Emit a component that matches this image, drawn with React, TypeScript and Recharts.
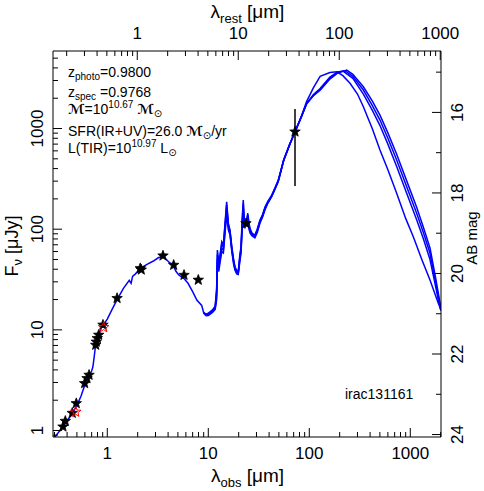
import React from 'react';
import { ComposedChart, Line, Scatter, XAxis, YAxis } from 'recharts';

const W = 484;
const H = 491;
const REDSHIFT = 0.98;
const X_DOMAIN: [number, number] = [0.29, 2014];
const Y_DOMAIN: [number, number] = [0.862, 5890];
const FONT = '"Liberation Sans", Arial, "DejaVu Sans", sans-serif';
const BLUE = '#0000ff';

// Photometry (black stars)
const photLam = [0.364, 0.384, 0.45, 0.493, 0.597, 0.63, 0.66, 0.768, 0.778, 0.796, 0.822, 0.906, 1.25, 2.12, 2.17, 3.56, 4.54, 5.75, 7.96, 23.6, 72.2];
const photFlux = [1.09, 1.24, 1.49, 1.86, 2.94, 3.3, 3.56, 7.07, 7.6, 8.24, 8.9, 11.2, 20.6, 40.8, 39.5, 54.5, 44, 35, 31.3, 114, 929];
// Photometry (red stars)
const redLam = [0.487, 0.92];
const redFlux = [1.53, 10.6];
// 70 micron error bar
const errLam = [72.2, 72.2];
const errFlux = [268, 1563];
// rest-frame wavelength range anchoring the top axis
const restLam = [0.2, 1000];
const restFlux = [1, 1];

// Template SED A (full range, earliest far-IR peak)
const sedLamA = [0.3, 0.36, 0.4, 0.45, 0.5, 0.55, 0.6, 0.66, 0.7, 0.72, 0.74, 0.76, 0.78, 0.82, 0.86, 0.92, 1.0, 1.1, 1.25, 1.45, 1.65, 1.72, 1.78, 1.9, 2.14, 2.5, 2.83, 3.2, 3.56, 4.0, 4.5, 4.8, 5.1, 5.8, 6.3, 7.0, 7.7, 8.6, 9.0, 9.5, 10.0, 11.0, 11.7, 12.1, 12.3, 12.7, 13.0, 13.6, 14.1, 14.6, 15.2, 15.8, 16.4, 17.1, 17.8, 18.4, 19.1, 19.8, 20.5, 21.1, 21.6, 22.2, 22.6, 23.1, 24.0, 24.6, 25.3, 25.9, 27.0, 28.9, 30.5, 32.5, 34.5, 36.5, 39, 42.4, 46, 49.3, 55.7, 64, 72.2, 83, 94, 110, 128, 160, 187, 215, 253, 300, 343, 420, 501, 600, 733, 900, 1071, 1300, 1567, 1893, 2014];
const sedFluxA = [0.85, 1.08, 1.25, 1.47, 1.78, 2.2, 2.85, 3.5, 3.9, 4.3, 5.3, 6.6, 7.7, 8.8, 10.2, 11.3, 12.8, 15.5, 20, 26, 31, 29, 34, 36, 41, 45, 48, 52, 54, 48, 43, 38, 35, 32, 29, 24, 19.8, 17.5, 14.8, 14.2, 14.4, 15.5, 16.8, 24, 62, 48, 53, 75, 70, 110, 187, 114, 98, 67, 50, 42, 39, 38, 55, 67, 120, 195, 130, 114, 125, 144, 115, 102, 92, 87, 100, 123, 140, 167, 190, 217, 260, 307, 486, 700, 929, 1300, 1850, 2550, 3300, 3600, 3664, 3350, 2812, 2200, 1645, 1000, 611, 390, 227, 128, 84, 50, 31.3, 18.4, 16];

// Template SED B
const sedLamB = [9.0, 9.5, 10.0, 11.0, 11.7, 12.1, 12.3, 12.7, 13.0, 13.6, 14.1, 14.6, 15.2, 15.8, 16.4, 17.1, 17.8, 18.4, 19.1, 19.8, 20.5, 21.1, 21.6, 22.2, 22.6, 23.1, 24.0, 24.6, 25.3, 25.9, 27.0, 28.9, 30.5, 32.5, 34.5, 36.5, 39, 42.4, 46, 49.3, 55.7, 64, 72.2, 83, 94, 110, 128, 160, 190, 216, 270, 343, 420, 501, 600, 733, 921, 1156, 1350, 1567, 1780, 1968, 2014];
const sedFluxB = [14.8, 14.0, 14.2, 15.2, 16.5, 22, 50, 42, 48, 65, 62, 95, 160, 105, 92, 62, 47, 40, 37, 36.5, 50, 62, 105, 165, 120, 108, 118, 130, 105, 95, 88, 84, 95, 118, 135, 160, 185, 212, 255, 300, 480, 695, 925, 1290, 1760, 2180, 2500, 3250, 3650, 3720, 3150, 2200, 1520, 1070, 700, 420, 228, 124, 80, 50, 27, 16.5, 15.5];

// Template SED C
const sedLamC = [9.0, 9.5, 10.0, 11.0, 11.7, 12.1, 12.3, 12.7, 13.0, 13.6, 14.1, 14.6, 15.2, 15.8, 16.4, 17.1, 17.8, 18.4, 19.1, 19.8, 20.5, 21.1, 21.6, 22.2, 22.6, 23.1, 24.0, 24.6, 25.3, 25.9, 27.0, 28.9, 30.5, 32.5, 34.5, 36.5, 39, 42.4, 46, 49.3, 55.7, 64, 72.2, 83, 94, 110, 128, 160, 190, 235, 270, 343, 420, 501, 600, 733, 921, 1156, 1350, 1567, 1780, 1968, 2014];
const sedFluxC = [14.8, 14.3, 14.6, 15.8, 17.2, 26, 56, 45, 51, 72, 66, 105, 175, 110, 96, 64, 49, 41, 38, 37.5, 52, 64, 112, 180, 125, 110, 122, 138, 110, 98, 90, 86, 98, 121, 138, 163, 188, 215, 258, 304, 484, 698, 930, 1295, 1770, 2120, 2400, 3100, 3550, 3800, 3450, 2600, 1880, 1360, 905, 555, 302, 165, 104, 65, 33, 18.5, 17];

// Template SED D
const sedLamD = [9.0, 9.5, 10.0, 11.0, 11.7, 12.1, 12.3, 12.7, 13.0, 13.6, 14.1, 14.6, 15.2, 15.8, 16.4, 17.1, 17.8, 18.4, 19.1, 19.8, 20.5, 21.1, 21.6, 22.2, 22.6, 23.1, 24.0, 24.6, 25.3, 25.9, 27.0, 28.9, 30.5, 32.5, 34.5, 36.5, 39, 42.4, 46, 49.3, 55.7, 64, 72.2, 83, 94, 110, 128, 160, 190, 226, 270, 343, 420, 501, 600, 733, 921, 1156, 1350, 1567, 1780, 1968, 2014];
const sedFluxD = [14.6, 13.8, 13.9, 14.9, 16.0, 20, 44, 38, 45, 60, 58, 88, 140, 98, 88, 60, 45, 39, 36, 35.5, 47, 58, 98, 140, 112, 104, 112, 124, 100, 92, 86, 82, 92, 115, 132, 157, 182, 210, 252, 298, 478, 692, 922, 1285, 1750, 2150, 2450, 3170, 3600, 3750, 3300, 2412, 1700, 1214, 800, 486, 264, 144, 92, 57.6, 30, 17.7, 16];

const zip = (lam: number[], flux: number[]) => lam.map((l, i) => ({ lam: l, f: flux[i] }));

const seriesA = zip(sedLamA, sedFluxA);
const seriesB = zip(sedLamB, sedFluxB);
const seriesC = zip(sedLamC, sedFluxC);
const seriesD = zip(sedLamD, sedFluxD);
const photData = zip(photLam, photFlux);
const redData = zip(redLam, redFlux);
const errData = zip(errLam, errFlux);
const restData = zip(restLam, restFlux);

const logTicks = (min: number, max: number) => {
  const out: number[] = [];
  for (let d = -2; d <= 4; d++) {
    for (let m = 1; m <= 9; m++) {
      const v = Number((m * Math.pow(10, d)).toPrecision(3));
      if (v >= min && v <= max) out.push(v);
    }
  }
  return out;
};
const isDecade = (v: number) => Math.abs(Math.log10(v) - Math.round(Math.log10(v))) < 1e-6;

const bottomTicks = logTicks(X_DOMAIN[0], X_DOMAIN[1]);
const topDomain: [number, number] = [X_DOMAIN[0] / (1 + REDSHIFT), X_DOMAIN[1] / (1 + REDSHIFT)];
const topTicks = logTicks(topDomain[0], topDomain[1]);
const leftTicks = logTicks(Y_DOMAIN[0], Y_DOMAIN[1]);
const magDomain: [number, number] = [23.9 - 2.5 * Math.log10(Y_DOMAIN[1]), 23.9 - 2.5 * Math.log10(Y_DOMAIN[0])];
const magTicks = [15, 16, 17, 18, 19, 20, 21, 22, 23, 24];

const MAJ = 9;
const MIN = 5;
const TICK_FS = 17;

const BottomTick = (p: any) => {
  const { x, y, payload } = p;
  const major = isDecade(payload.value);
  return (
    <g>
      <line x1={x} x2={x} y1={y} y2={y - (major ? MAJ : MIN)} stroke="#000" strokeWidth={1} />
      {major && (
        <text x={x} y={y + 21.5} textAnchor="middle" fontSize={TICK_FS} fontFamily={FONT} fill="#000">
          {String(payload.value)}
        </text>
      )}
    </g>
  );
};

const TopTick = (p: any) => {
  const { x, y, payload } = p;
  const major = isDecade(payload.value);
  return (
    <g>
      <line x1={x} x2={x} y1={y} y2={y + (major ? MAJ : MIN)} stroke="#000" strokeWidth={1} />
      {major && (
        <text x={x} y={y - 12.5} textAnchor="middle" fontSize={TICK_FS} fontFamily={FONT} fill="#000">
          {String(payload.value)}
        </text>
      )}
    </g>
  );
};

const LeftTick = (p: any) => {
  const { x, y, payload } = p;
  const major = isDecade(payload.value);
  const tx = x - 10;
  return (
    <g>
      <line x1={x} x2={x + (major ? MAJ : MIN)} y1={y} y2={y} stroke="#000" strokeWidth={1} />
      {major && (
        <text x={tx} y={y} transform={`rotate(-90 ${tx} ${y})`} textAnchor="middle" fontSize={TICK_FS} fontFamily={FONT} fill="#000">
          {String(payload.value)}
        </text>
      )}
    </g>
  );
};

const RightTick = (p: any) => {
  const { x, y, payload } = p;
  const major = payload.value % 2 === 0;
  const tx = x + 22;
  return (
    <g>
      <line x1={x} x2={x - (major ? MAJ : MIN)} y1={y} y2={y} stroke="#000" strokeWidth={1} />
      {major && (
        <text x={tx} y={y} transform={`rotate(-90 ${tx} ${y})`} textAnchor="middle" fontSize={TICK_FS} fontFamily={FONT} fill="#000">
          {String(payload.value)}
        </text>
      )}
    </g>
  );
};

const starPath = (cx: number, cy: number, R: number, r: number) => {
  let d = '';
  for (let i = 0; i < 10; i++) {
    const rad = i % 2 === 0 ? R : r;
    const a = -Math.PI / 2 + (i * Math.PI) / 5;
    d += (i === 0 ? 'M' : 'L') + (cx + rad * Math.cos(a)).toFixed(2) + ',' + (cy + rad * Math.sin(a)).toFixed(2);
  }
  return d + 'Z';
};

const BlackStar = (p: any) => <path d={starPath(p.cx, p.cy, 5.5, 2.3)} fill="#000" stroke="#000" strokeWidth={0.8} />;
const RedStar = (p: any) => <path d={starPath(p.cx, p.cy, 5.5, 2.3)} fill="none" stroke="#ff0000" strokeWidth={1} />;

const lineProps = {
  type: 'linear' as const,
  dataKey: 'f',
  stroke: BLUE,
  strokeWidth: 1.5,
  dot: false,
  activeDot: false,
  isAnimationActive: false,
};

const sun = '\u2299';

export default function App() {
  return (
    <div style={{ position: 'absolute', left: 0, top: 0, width: W, height: H, background: '#fff' }}>
      <ComposedChart width={W} height={H} margin={{ top: 0, right: 0, bottom: 0, left: 0 }}>
        <XAxis
          xAxisId={0}
          dataKey="lam"
          type="number"
          scale="log"
          domain={X_DOMAIN}
          allowDataOverflow
          ticks={bottomTicks}
          interval={0}
          height={54}
          tickSize={0}
          tickMargin={0}
          tickLine={false}
          axisLine={{ stroke: '#000' }}
          tick={<BottomTick />}
        />
        <XAxis
          xAxisId="top"
          dataKey="lam"
          orientation="top"
          type="number"
          scale="log"
          domain={topDomain}
          allowDataOverflow
          ticks={topTicks}
          interval={0}
          height={51}
          tickSize={0}
          tickMargin={0}
          tickLine={false}
          axisLine={{ stroke: '#000' }}
          tick={<TopTick />}
        />
        <YAxis
          yAxisId={0}
          type="number"
          scale="log"
          domain={Y_DOMAIN}
          allowDataOverflow
          ticks={leftTicks}
          interval={0}
          width={53}
          tickSize={0}
          tickMargin={0}
          tickLine={false}
          axisLine={{ stroke: '#000' }}
          tick={<LeftTick />}
        />
        <YAxis
          yAxisId="mag"
          orientation="right"
          type="number"
          domain={magDomain}
          reversed
          allowDataOverflow
          ticks={magTicks}
          interval={0}
          width={43}
          tickSize={0}
          tickMargin={0}
          tickLine={false}
          axisLine={{ stroke: '#000' }}
          tick={<RightTick />}
        />
        <Line data={restData} xAxisId="top" type="linear" dataKey="f" stroke="none" dot={false} activeDot={false} isAnimationActive={false} />
        <Line data={seriesB} {...lineProps} />
        <Line data={seriesC} {...lineProps} />
        <Line data={seriesD} {...lineProps} />
        <Line data={seriesA} {...lineProps} />
        <Line data={errData} type="linear" dataKey="f" stroke="#000" strokeWidth={1.5} dot={false} activeDot={false} isAnimationActive={false} />
        <Scatter data={photData} dataKey="f" shape={<BlackStar />} isAnimationActive={false} />
        <Scatter data={redData} dataKey="f" shape={<RedStar />} isAnimationActive={false} />
      </ComposedChart>
      <svg width={W} height={H} style={{ position: 'absolute', left: 0, top: 0, pointerEvents: 'none' }}>
        <g fontFamily={FONT} fill="#000">
          <text x={247.5} y={18} textAnchor="middle" fontSize={19}>
            λ<tspan fontSize={13} dy={5}>rest</tspan>
            <tspan dy={-5}> [μm]</tspan>
          </text>
          <text x={247.5} y={482} textAnchor="middle" fontSize={19}>
            λ<tspan fontSize={13} dy={5}>obs</tspan>
            <tspan dy={-5}> [μm]</tspan>
          </text>
          <text x={18} y={246} transform="rotate(-90 18 246)" textAnchor="middle" fontSize={18}>
            F<tspan fontSize={13} dy={4}>ν</tspan>
            <tspan dy={-4}> [μJy]</tspan>
          </text>
          <text x={477} y={238} transform="rotate(-90 477 238)" textAnchor="middle" fontSize={15}>
            AB mag
          </text>
          <text x={68} y={77} fontSize={14}>
            z<tspan fontSize={10} dy={3}>photo</tspan>
            <tspan dy={-3}>=0.9800</tspan>
          </text>
          <text x={68} y={96.5} fontSize={14}>
            z<tspan fontSize={10} dy={3}>spec</tspan>
            <tspan dy={-3}> =0.9768</tspan>
          </text>
          <text x={68} y={114} fontSize={14}>
            <tspan fontStyle="italic" fontWeight="bold">ℳ</tspan>=10<tspan fontSize={10} dy={-6}>10.67</tspan>
            <tspan dy={6}> </tspan>
            <tspan fontStyle="italic" fontWeight="bold">ℳ</tspan>
            <tspan fontSize={10} dy={3}>{sun}</tspan>
          </text>
          <text x={68} y={136} fontSize={14}>
            SFR(IR+UV)=26.0 <tspan fontStyle="italic" fontWeight="bold">ℳ</tspan>
            <tspan fontSize={10} dy={3}>{sun}</tspan>
            <tspan dy={-3}>/yr</tspan>
          </text>
          <text x={68} y={153} fontSize={14}>
            L(TIR)=10<tspan fontSize={10} dy={-6}>10.97</tspan>
            <tspan dy={6}> L</tspan>
            <tspan fontSize={10} dy={3}>{sun}</tspan>
          </text>
          <text x={345} y={399} fontSize={14}>
            irac131161
          </text>
        </g>
      </svg>
    </div>
  );
}
